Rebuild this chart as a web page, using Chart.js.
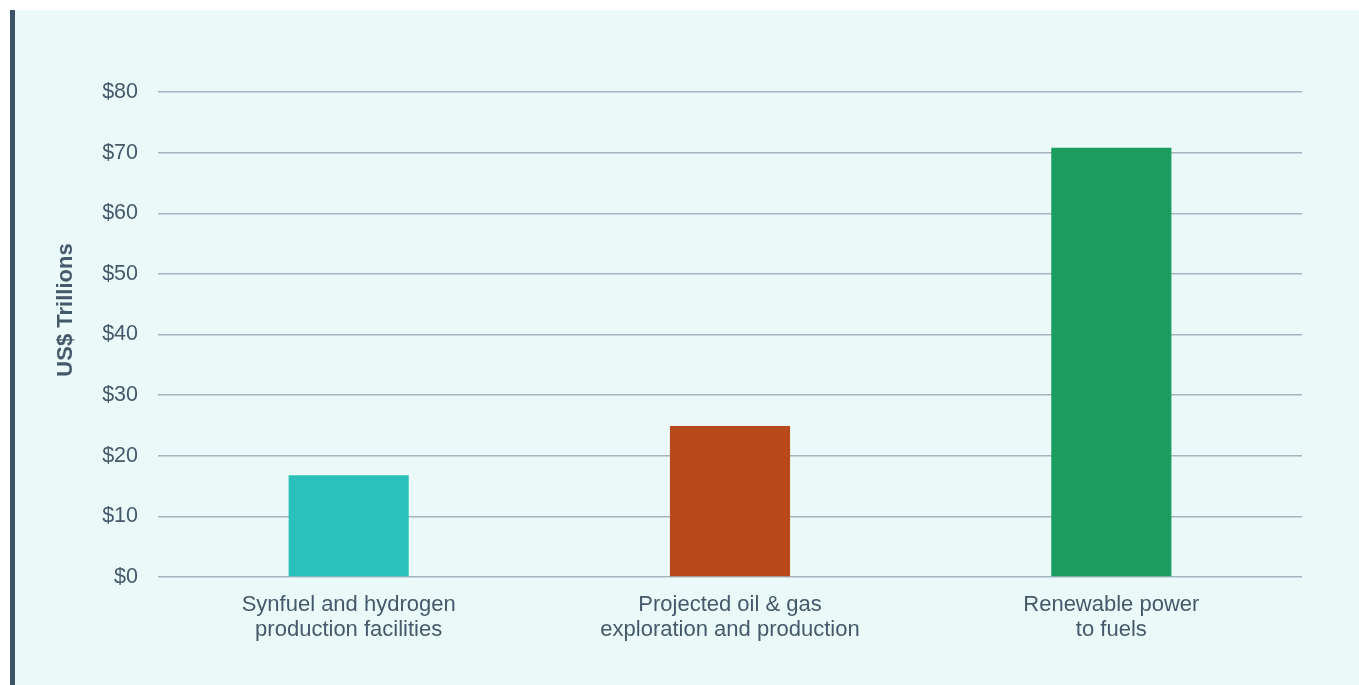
<!DOCTYPE html>
<html>
<head>
<meta charset="utf-8">
<script src="https://cdn.jsdelivr.net/npm/chart.js@4.4.1/dist/chart.umd.min.js"></script>
<style>
  html, body { margin: 0; padding: 0; background: #ffffff; }
  #panel {
    position: absolute; left: 10px; top: 10px;
    width: 1344px; height: 675px;
    background: #ebf9f9;
    border-left: 5px solid #3d5467;
  }
  #wrap { position: relative; width: 1344px; height: 675px; }
</style>
</head>
<body>
<div id="panel"><div id="wrap"><canvas id="investChart"></canvas></div></div>
<script>
// chart data
const categories = [
    ["Synfuel and hydrogen", "production facilities"],
    ["Projected oil & gas", "exploration and production"],
    ["Renewable power", "to fuels"]
];
const values = [16.8, 24.9, 70.8];              // US$ trillions
const barColors = ["#2bc1bb", "#b7491b", "#1b9c61"];
const yTicks = [0, 10, 20, 30, 40, 50, 60, 70, 80];
const yTitle = "US$ Trillions";

const textColor = "#46596b";
const gridColor = "#a3b6bd";
const fontFamily = "'Liberation Sans', Arial, sans-serif";

// rotated y title, drawn slightly above the plot centre like the original
const yTitlePlugin = {
    id: "yTitle",
    afterDraw(chart) {
        const ctx = chart.ctx;
        ctx.save();
        ctx.translate(51, 300);
        ctx.rotate(-Math.PI / 2);
        ctx.font = "bold 22px " + fontFamily;
        ctx.fillStyle = textColor;
        ctx.textAlign = "center";
        ctx.textBaseline = "middle";
        ctx.fillText(yTitle, 0, 0);
        ctx.restore();
    }
};

const ctx = document.getElementById("investChart").getContext("2d");
new Chart(ctx, {
    type: "bar",
    data: {
        labels: categories,
        datasets: [{
            data: values,
            backgroundColor: barColors,
            borderWidth: 0,
            barPercentage: 0.315,
            categoryPercentage: 1
        }]
    },
    options: {
        responsive: true,
        maintainAspectRatio: false,
        animation: false,
        layout: { padding: { left: 0, right: 57, top: 82, bottom: 44 } },
        plugins: {
            legend: { display: false },
            tooltip: { enabled: false }
        },
        scales: {
            x: {
                grid: { display: false, drawTicks: false },
                border: { display: false },
                ticks: {
                    color: textColor,
                    padding: 15,
                    maxRotation: 0,
                    font: { family: fontFamily, size: 22, lineHeight: 1.14 }
                },
                afterFit(scale) { scale.height = 64; }
            },
            y: {
                min: 0,
                max: 80,
                afterBuildTicks(scale) { scale.ticks = yTicks.map(v => ({ value: v })); },
                grid: { color: gridColor, lineWidth: 1.5, drawTicks: false },
                border: { display: false },
                ticks: {
                    color: textColor,
                    padding: 20,
                    font: { family: fontFamily, size: 21.5 },
                    callback: v => "$" + v
                },
                afterFit(scale) { scale.width = 143; }
            }
        }
    },
    plugins: [yTitlePlugin]
});
</script>
</body>
</html>
